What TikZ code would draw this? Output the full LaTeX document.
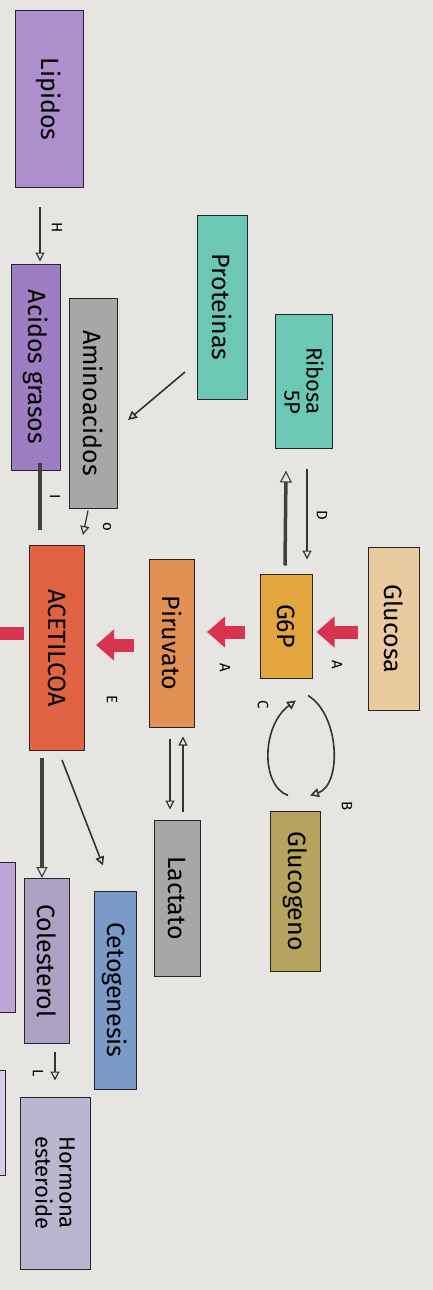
\documentclass[tikz,border=0pt]{standalone}
\usepackage{fontspec}
\setmainfont{Fira Sans}
\usetikzlibrary{
    arrows.meta,
    calc,
    positioning
}
\definecolor{papel}{HTML}{E6E5E1}
\definecolor{lila}{HTML}{AC8FCB}
\definecolor{lilaosc}{HTML}{9D7EC2}
\definecolor{gris}{HTML}{A6A7A6}
\definecolor{turquesa}{HTML}{6CC8B4}
\definecolor{beige}{HTML}{E8CB9E}
\definecolor{ocre}{HTML}{E3A63E}
\definecolor{naranja}{HTML}{E39055}
\definecolor{tomate}{HTML}{E06444}
\definecolor{oliva}{HTML}{B6A45E}
\definecolor{azul}{HTML}{7A9AC8}
\definecolor{malva}{HTML}{ABA2C4}
\definecolor{rojo}{HTML}{D8334F}

\begin{document}
\begin{tikzpicture}[x=1pt, y=-1pt,
    caja/.style={draw=black!85, line width=1pt, rotate=-90, inner sep=0pt,
        font=\fontsize{25}{27}\selectfont},
    flecha/.style={-{Triangle[open, length=9pt, width=9pt]}, line width=1.2pt, black!80},
    gruesa/.style={line width=3.5pt, black!75},
    roja/.style={-{Triangle[length=18pt, width=30pt]}, line width=13pt, rojo},
    letra/.style={rotate=-90, inner sep=0pt, font=\fontsize{15}{15}\selectfont}]
    \fill[papel] (0,0) rectangle (433,1290);
    \useasboundingbox (0,0) rectangle (433,1290);
    % cajas cortadas en el borde
    \fill[lila!80, draw=black!85, line width=1pt] (-40,862) rectangle (15,1012);
    \fill[lila!45, draw=black!85, line width=1pt] (-40,1070) rectangle (5,1175);

    \node[caja, fill=lila, minimum width=177pt, minimum height=68pt] (lipidos) at (49, 99) {Lipidos};
    \node[caja, fill=lilaosc, minimum width=206pt, minimum height=49pt] (acidos) at (36, 367) {Acidos grasos};
    \node[caja, fill=gris, minimum width=210pt, minimum height=48pt] (aminoacidos) at (93, 403) {Aminoacidos};
    \node[caja, fill=turquesa, minimum width=184pt, minimum height=50pt] (proteinas) at (222, 307) {Proteinas};
    \node[caja, fill=turquesa, minimum width=134pt, minimum height=57pt, align=right,
        font=\fontsize{22}{22}\selectfont] (ribosa) at (304, 381) {Ribosa\\5P};
    \node[caja, fill=beige, minimum width=163pt, minimum height=51pt] (glucosa) at (394, 629) {Glucosa};
    \node[caja, fill=ocre, minimum width=104pt, minimum height=52pt] (g6p) at (286, 626) {G6P};
    \node[caja, fill=naranja, minimum width=168pt, minimum height=45pt] (piruvato) at (172, 643) {Piruvato};
    \node[caja, fill=tomate, minimum width=205pt, minimum height=55pt] (acetil) at (57, 648) {ACETILCOA};
    \node[caja, fill=oliva, minimum width=160pt, minimum height=50pt] (glucogeno) at (295, 891) {Glucogeno};
    \node[caja, fill=gris, minimum width=156pt, minimum height=46pt] (lactato) at (177, 898) {Lactato};
    \node[caja, fill=azul, minimum width=198pt, minimum height=42pt] (cetogenesis) at (115, 990) {Cetogenesis};
    \node[caja, fill=malva, minimum width=165pt, minimum height=45pt] (colesterol) at (47, 961) {Colesterol};
    \node[caja, fill=malva!80, minimum width=172pt, minimum height=70pt, align=left,
        font=\fontsize{22}{24}\selectfont] (hormona) at (55, 1183) {Hormona\\esteroide};
    \coordinate (fuera) at (-30, 633);

    % flechas rojas
    \draw[roja] ($(glucosa.south)+(-10,3)$) -- ($(g6p.north)+(4,6)$);
    \draw[roja] ($(g6p.south)+(-15,6)$) -- ($(piruvato.north)+(12,-11)$);
    \draw[roja] ($(piruvato.south)+(-15,2)$) -- ($(acetil.north)+(11,-3)$);
    \draw[roja] ($(acetil.south)+(-5,-15)$) -- (fuera);

    \draw
    ($(lipidos.east)+(-9,19)$) edge[flecha] ($(acidos.west)+(4,-2)$)
    ($(proteinas.center)+(-37,65)$) edge[flecha, line width=1.6pt] ($(aminoacidos.center)+(35,17)$)
    ($(g6p.west)+(-1,-8)$) edge[gruesa, -{Triangle[open, line width=1.2pt, length=12pt, width=12pt]}] ($(ribosa.east)+(-18,22)$)
    ($(ribosa.east)+(3,20)$) edge[flecha] ($(g6p.west)+(21,-14)$)
    ($(piruvato.east)+(-2,11)$) edge[flecha] ($(lactato.west)+(-7,-10)$)
    ($(lactato.west)+(6,-8)$) edge[flecha] ($(piruvato.east)+(11,9)$)
    ($(aminoacidos.east)+(-5,2)$) edge[flecha] ($(acetil.west)+(26,-10)$)
    ($(acidos.east)+(4,-8)$) edge[gruesa] ($(acetil.west)+(-17,-15)$)
    ($(acetil.east)+(5,9)$) edge[flecha, line width=1.6pt] ($(cetogenesis.west)+(-12,-25)$)
    ($(acetil.east)+(-15,7)$) edge[gruesa, -{Triangle[open, line width=1.2pt, length=11pt, width=11pt]}] ($(colesterol.west)+(-5,0)$)
    ($(colesterol.east)+(8,8)$) edge[flecha] ($(hormona.west)+(0,-16)$);
    % ciclo G6P - Glucogeno
    \draw[flecha, line width=1.6pt] ($(g6p.east)+(22,17)$) .. controls (340,715) and (342,785) .. ($(glucogeno.west)+(15,-15)$);
    \draw[flecha, line width=1.6pt] ($(glucogeno.west)+(-7,-15)$) .. controls (260,785) and (262,725) .. ($(g6p.east)+(10,22)$);

    % letras
    \node[letra] (lA) at (337, 665) {A};
    \node[letra] (lB) at (347, 806) {B};
    \node[letra] (lC) at (263, 705) {C};
    \node[letra] (lD) at (322, 515) {D};
    \node[letra] (lA2) at (225, 668) {A};
    \node[letra] (lE) at (112, 700) {E};
    \node[letra] (lH) at (57, 228) {H};
    \node[letra] (lI) at (55, 497) {I};
    \node[letra] (lo) at (107, 527) {o};
    \node[letra] (lL) at (38, 1073) {L};
\end{tikzpicture}
\end{document}
